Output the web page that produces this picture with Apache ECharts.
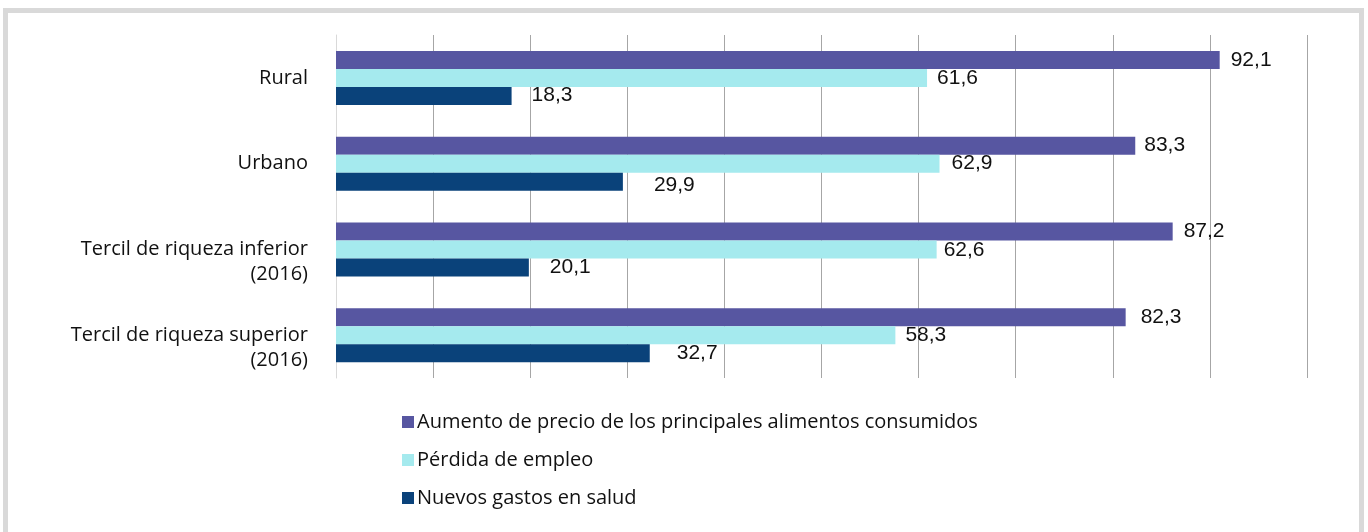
<!DOCTYPE html>
<html>
<head>
<meta charset="utf-8">
<script src="https://cdn.jsdelivr.net/npm/echarts@6/dist/echarts.min.js"></script>
<style>
html,body{margin:0;padding:0;background:#fff;}
#c{width:1368px;height:532px;}
</style>
</head>
<body>
<div id="c"></div>
<script>
const categories = ['Rural', 'Urbano', 'Tercil de riqueza inferior\n(2016)', 'Tercil de riqueza superior\n(2016)'];
const seriesNames = ['Aumento de precio de los principales alimentos consumidos', 'Pérdida de empleo', 'Nuevos gastos en salud'];
const precioAlimentos = [92.1, 83.3, 87.2, 82.3];
const perdidaEmpleo = [61.6, 62.9, 62.6, 58.3];
const gastosSalud = [18.3, 29.9, 20.1, 32.7];
const colors = ['#5756a1', '#a5eaee', '#0a427a'];
// label fine-tuning (style only): [dx, dy] per series per category
const labelShift = [
  [[1,0],[-1,0],[1,0],[5,0]],
  [[0,0],[2,0],[-3,1],[0,0]],
  [[10,-1],[21,4],[11,0],[17,0]]
];

const chart = echarts.init(document.getElementById('c'));
const valueSets = [precioAlimentos, perdidaEmpleo, gastosSalud];
const fmt = v => v.toFixed(1).replace('.', ',');

chart.setOption({
  animation: false,
  graphic: [{
    type: 'rect', silent: true, z: -10,
    shape: { x: 5.5, y: 10.5, width: 1356, height: 600 },
    style: { fill: '#fff', stroke: '#d9d9d9', lineWidth: 5 }
  }],
  grid: { left: 336, right: 61, top: 35, bottom: 154, containLabel: false },
  xAxis: {
    type: 'value', min: 0, max: 101.2, interval: 10.12,
    axisLabel: { show: false },
    axisLine: { show: false }, axisTick: { show: false },
    splitLine: { show: true, lineStyle: { color: '#a6a6a6', width: 1 } }
  },
  yAxis: {
    type: 'category', inverse: true, data: categories,
    axisLine: { show: true, lineStyle: { color: '#d9d9d9', width: 1 } },
    axisTick: { show: false },
    axisLabel: {
      margin: 28, fontFamily: 'Open Sans', fontSize: 20, color: '#111', lineHeight: 25, align: 'right',
      formatter: v => v.indexOf('\n') >= 0 ? ' \n' + v : v
    }
  },
  legend: {
    orient: 'vertical', left: 397, top: 407, itemWidth: 12, itemHeight: 12, itemGap: 18,
    icon: 'rect', data: seriesNames,
    textStyle: { fontFamily: 'Open Sans', fontSize: 20, color: '#111', padding: [0, 0, 0, -2] }
  },
  series: valueSets.map((vals, si) => ({
    type: 'bar', name: seriesNames[si], barWidth: 18, barGap: '0%',
    itemStyle: { color: colors[si] },
    label: {
      show: true, position: 'right', distance: 10,
      fontFamily: 'Liberation Sans', fontSize: 21, color: '#111',
      formatter: p => fmt(p.value)
    },
    data: vals.map((v, ci) => ({ value: v, label: { offset: labelShift[si][ci] } }))
  }))
});
</script>
</body>
</html>
